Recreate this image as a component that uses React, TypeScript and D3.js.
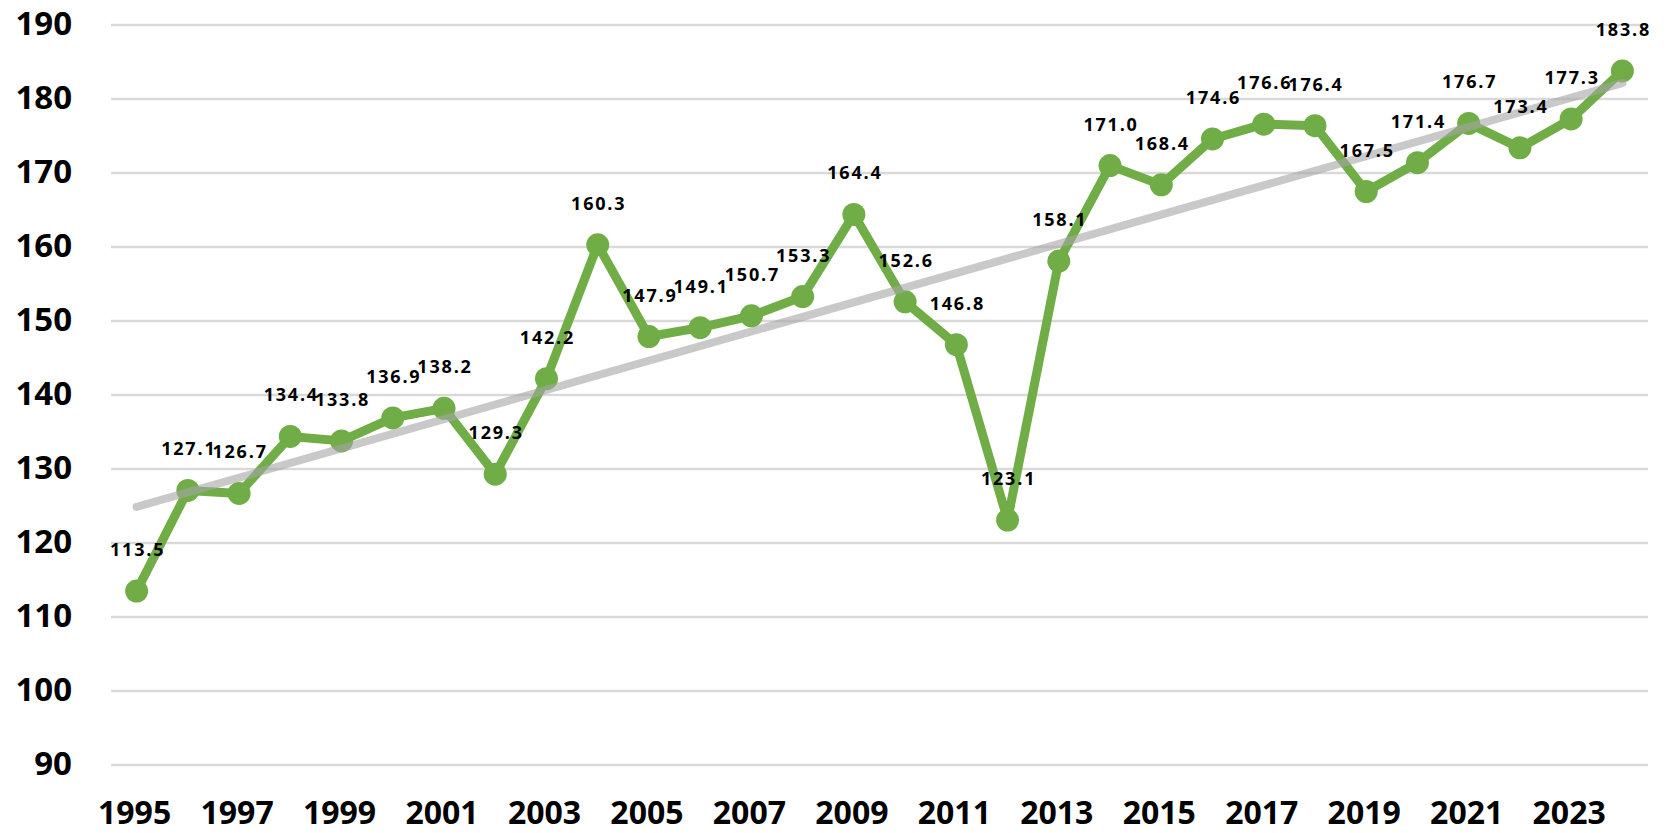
import React from "react";
import * as d3 from "d3";

const years: number[] = d3.range(1995, 2025);
const values: number[] = [
    113.5, 127.1, 126.7, 134.4, 133.8, 136.9, 138.2, 129.3, 142.2, 160.3,
    147.9, 149.1, 150.7, 153.3, 164.4, 152.6, 146.8, 123.1, 158.1, 171.0,
    168.4, 174.6, 176.6, 176.4, 167.5, 171.4, 176.7, 173.4, 177.3, 183.8,
];
const yTicks: number[] = [90, 100, 110, 120, 130, 140, 150, 160, 170, 180, 190];
const xTickYears: number[] = years.filter((y) => (y - 1995) % 2 === 0);

const W = 1669;
const H = 833;
const GREEN = "#70ad47";
const FONT = "'Open Sans', 'Liberation Sans', sans-serif";

const App: React.FC = () => {
    const x = d3
        .scaleBand<number>()
        .domain(years)
        .range([111, 1648])
        .padding(0);
    const y = d3.scaleLinear().domain([90, 190]).range([765, 25]);
    const cx = (yr: number) => (x(yr) ?? 0) + x.bandwidth() / 2;

    const pts: [number, number][] = years.map((yr, i) => [yr, values[i]]);

    const line = d3
        .line<[number, number]>()
        .x((d) => cx(d[0]))
        .y((d) => y(d[1]));

    // linear trendline (least squares over index)
    const idx = years.map((_, i) => i);
    const mx = d3.mean(idx) as number;
    const my = d3.mean(values) as number;
    const slope =
        d3.sum(idx.map((i) => (i - mx) * (values[i] - my))) /
        d3.sum(idx.map((i) => (i - mx) * (i - mx)));
    const icpt = my - slope * mx;
    const trend: [number, number][] = [
        [years[0], icpt],
        [years[years.length - 1], icpt + slope * (years.length - 1)],
    ];

    return (
        <svg
            width={W}
            height={H}
            style={{ position: "absolute", left: 0, top: 0, background: "#fff" }}
        >
            {/* gridlines */}
            {yTicks.map((t) => (
                <line
                    key={t}
                    x1={111}
                    x2={1648}
                    y1={y(t)}
                    y2={y(t)}
                    stroke="#d9d9d9"
                    strokeWidth={2.6}
                />
            ))}
            {/* y axis labels */}
            {yTicks.map((t) => (
                <text
                    key={"yl" + t}
                    x={72}
                    y={y(t) + 10}
                    textAnchor="end"
                    fontFamily={FONT}
                    fontWeight={700}
                    fontSize={33}
                    fill="#000"
                >
                    {t}
                </text>
            ))}
            {/* x axis labels */}
            {xTickYears.map((yr) => (
                <text
                    key={"xl" + yr}
                    x={cx(yr) - 2}
                    y={824}
                    textAnchor="middle"
                    fontFamily={FONT}
                    fontWeight={700}
                    fontSize={32}
                    fill="#000"
                >
                    {yr}
                </text>
            ))}
            {/* series */}
            <path
                d={line(pts) ?? ""}
                fill="none"
                stroke={GREEN}
                strokeWidth={9}
                strokeLinejoin="round"
            />
            {pts.map((d) => (
                <circle key={"c" + d[0]} cx={cx(d[0])} cy={y(d[1])} r={11.5} fill={GREEN} />
            ))}
            {/* trendline */}
            <path
                d={line(trend) ?? ""}
                fill="none"
                stroke="rgba(165,165,165,0.6)"
                strokeWidth={8}
                strokeLinecap="round"
            />
            {/* data labels */}
            {pts.map((d) => (
                <text
                    key={"dl" + d[0]}
                    x={cx(d[0]) + 1}
                    y={y(d[1]) - 35}
                    textAnchor="middle"
                    fontFamily={FONT}
                    fontWeight={700}
                    fontSize={18}
                    letterSpacing={1.8}
                    fill="#000"
                >
                    {d[1].toFixed(1)}
                </text>
            ))}
        </svg>
    );
};

export default App;
